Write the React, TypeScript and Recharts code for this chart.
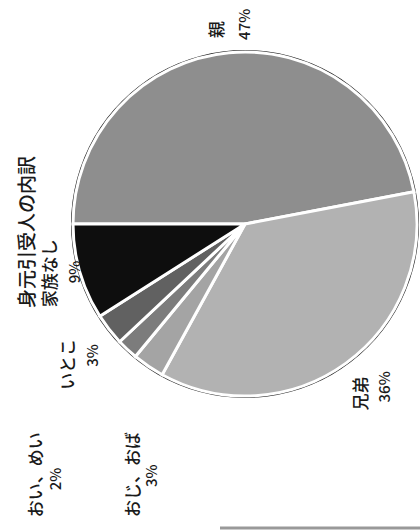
import React from 'react';
import { PieChart, Pie, Cell } from 'recharts';

// 身元引受人の内訳 (scanned page, turned 90°)
const NAMES = ['親', '兄弟', 'おじ、おば', 'おい、めい', 'いとこ', '家族なし'];
const SHARES = [47, 36, 3, 2, 3, 9];
const PCT_LABELS = ['47%', '36%', '3%', '2%', '3%', '9%'];
const TITLE = '身元引受人の内訳';
const TOTAL = [100];

const FILLS = ['#8e8e8e', '#b2b2b2', '#a4a4a4', '#7c7c7c', '#616161', '#0e0e0e'];

// label layout: shift from polar anchor, then offset of the % line
const LABEL_SHIFT: [number, number][] = [[-9, 15], [-3, 23], [1, 126], [-71, 146], [-17, 42], [-1, 27]];
const PCT_SHIFT: [number, number][] = [[28, 2], [24, -8], [19, -30], [20, -27], [24, -23], [25, -24]];

const FONT = '"Noto Sans CJK JP", "Noto Sans", sans-serif';
const RAD = Math.PI / 180;

const data = NAMES.map((name, i) => ({ name, value: SHARES[i], pct: PCT_LABELS[i] }));
const rim = TOTAL.map((value) => ({ name: 'all', value }));

// text turned -90°, (x, y) = centre of line, bottom end of text
const VText = ({ x, y, size, children }: { x: number; y: number; size: number; children: React.ReactNode }) => {
  const bx = x + size * 0.36;
  return (
    <text
      x={bx}
      y={y}
      transform={`rotate(-90 ${bx} ${y})`}
      fontSize={size}
      fontFamily={FONT}
      fontWeight={500}
      fill="#1a1a1a"
      textAnchor="start"
    >
      {children}
    </text>
  );
};

const renderLabel = (props: any) => {
  const { cx, cy, midAngle, outerRadius, index } = props;
  const r = outerRadius + 30;
  const ax = cx + r * Math.cos(-midAngle * RAD) + LABEL_SHIFT[index][0];
  const ay = cy + r * Math.sin(-midAngle * RAD) + LABEL_SHIFT[index][1];
  return (
    <g key={`lbl-${index}`}>
      <VText x={ax} y={ay} size={17}>{NAMES[index]}</VText>
      <VText x={ax + PCT_SHIFT[index][0]} y={ay + PCT_SHIFT[index][1]} size={15}>{PCT_LABELS[index]}</VText>
    </g>
  );
};

export default function App() {
  return (
    <div style={{ position: 'absolute', left: 0, top: 0, width: 420, height: 532, background: '#fff' }}>
      <PieChart width={420} height={532} margin={{ top: 0, right: 0, bottom: 0, left: 0 }}>
        <Pie
          data={rim}
          dataKey="value"
          cx={245}
          cy={224}
          outerRadius={174}
          startAngle={180}
          endAngle={-180}
          fill="#222"
          stroke="none"
          isAnimationActive={false}
        />
        <Pie
          data={data}
          dataKey="value"
          nameKey="name"
          cx={245}
          cy={224}
          outerRadius={172}
          startAngle={180}
          endAngle={-180}
          stroke="#ffffff"
          strokeWidth={3}
          label={renderLabel}
          labelLine={false}
          isAnimationActive={false}
        >
          {data.map((d, i) => (
            <Cell key={d.name} fill={FILLS[i]} />
          ))}
        </Pie>
      </PieChart>
      <svg width={420} height={532} style={{ position: 'absolute', left: 0, top: 0, pointerEvents: 'none' }}>
        <VText x={27} y={308} size={19}>{TITLE}</VText>
        <line x1={220} y1={528} x2={420} y2={528} stroke="#999" strokeWidth={3} />
      </svg>
    </div>
  );
}
